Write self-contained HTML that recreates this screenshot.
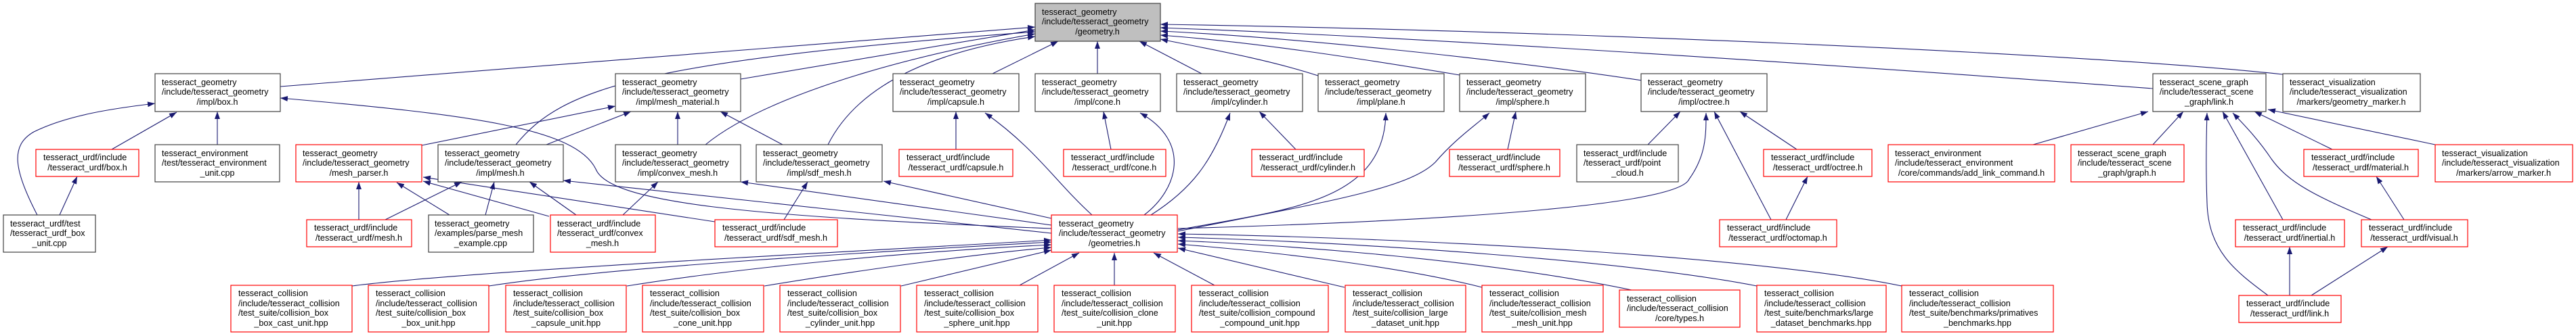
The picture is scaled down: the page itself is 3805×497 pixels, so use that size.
<!DOCTYPE html>
<html><head><meta charset="utf-8"><style>
html,body{margin:0;padding:0;background:#fff;}
svg{display:block;}
text{font-family:"Liberation Sans",Arial,sans-serif;font-size:12.6px;fill:#000;}
.b{fill:#fff;stroke:#404040;stroke-width:1.2;}
.r{fill:#fff;stroke:#ff0000;stroke-width:1.2;}
.g{fill:#bfbfbf;stroke:#404040;stroke-width:1.2;}
.e{fill:none;stroke:#191970;stroke-width:1.1;marker-end:url(#a);}
.m{text-anchor:middle;}
</style></head><body>
<svg width="3805" height="497" viewBox="0 0 3805 497" xmlns="http://www.w3.org/2000/svg">
<defs><marker id="a" markerUnits="userSpaceOnUse" markerWidth="11" markerHeight="8" refX="11" refY="4" orient="auto"><path d="M0,0 L11,4 L0,8 z" fill="#191970"/></marker></defs>

<!-- edges to geometry.h -->
<path class="e" d="M414,128 L1529,40"/>
<path class="e" d="M1094,117 L1529,44"/>
<path class="e" d="M762,214 C830,130 950,90 1529,47"/>
<path class="e" d="M1042,214 C1120,150 1300,90 1529,50"/>
<path class="e" d="M1223,214 C1260,140 1350,80 1529,54"/>
<path class="e" d="M1466,109 L1563,61"/>
<path class="e" d="M1621,109 L1621,61"/>
<path class="e" d="M1775,109 L1683,61"/>
<path class="e" d="M1947,112 C1880,90 1800,75 1714,58"/>
<path class="e" d="M2156,111 C2000,85 1850,62 1714,52"/>
<path class="e" d="M2425,119 C2200,85 1900,55 1714,46"/>
<path class="e" d="M3180,131 C2700,95 2100,55 1714,41"/>
<path class="e" d="M3372,110 C3100,80 2300,45 1714,36"/>

<!-- box.h -->
<path class="e" d="M165,221 L261,166"/>
<path class="e" d="M321,214 L321,165"/>
<path class="e" d="M55,318 C20,250 15,215 50,195 C100,170 170,160 229,153"/>
<path class="e" d="M1553,338 C1100,320 900,300 880,250 C850,190 700,170 414,145"/>
<path class="e" d="M88,318 L114,261"/>

<!-- mesh_material -->
<path class="e" d="M807,214 L932,165"/>
<path class="e" d="M623,215 L909,157"/>
<path class="e" d="M1001,214 L1001,165"/>
<path class="e" d="M1156,214 L1064,165"/>

<!-- mesh_parser -->
<path class="e" d="M530,325 L530,269"/>
<path class="e" d="M664,318 L586,270"/>
<path class="e" d="M811,320 L625,268"/>
<path class="e" d="M1056,328 L625,262"/>

<!-- mesh.h -->
<path class="e" d="M569,325 L682,269"/>
<path class="e" d="M717,318 L730,269"/>
<path class="e" d="M851,318 L782,269"/>
<path class="e" d="M1553,345 L832,267"/>

<!-- convex / sdf -->
<path class="e" d="M920,318 L972,269"/>
<path class="e" d="M1553,333 L1094,269"/>
<path class="e" d="M1158,325 L1193,269"/>
<path class="e" d="M1553,323 L1305,268"/>

<!-- capsule cone cylinder plane sphere octree -->
<path class="e" d="M1412,221 L1412,165"/>
<path class="e" d="M1613,318 C1560,270 1530,220 1455,167"/>
<path class="e" d="M1641,221 L1630,165"/>
<path class="e" d="M1690,318 C1740,280 1760,210 1684,167"/>
<path class="e" d="M1914,221 L1860,165"/>
<path class="e" d="M1700,318 C1760,280 1790,240 1817,167"/>
<path class="e" d="M1740,340 C1900,310 2045,300 2047,167"/>
<path class="e" d="M2227,221 L2239,165"/>
<path class="e" d="M1740,342 C1950,300 2080,280 2120,240 C2150,205 2180,185 2200,167"/>
<path class="e" d="M2434,214 L2482,165"/>
<path class="e" d="M1740,338 C2200,325 2480,300 2495,265 C2520,230 2520,200 2520,167"/>
<path class="e" d="M2654,221 L2570,165"/>
<path class="e" d="M2616,325 L2532,165"/>
<path class="e" d="M2638,325 L2670,261"/>

<!-- link.h -->
<path class="e" d="M3003,214 L3173,165"/>
<path class="e" d="M3180,214 L3225,165"/>
<path class="e" d="M3445,221 L3330,165"/>
<path class="e" d="M3597,214 L3350,162"/>
<path class="e" d="M3372,325 L3283,165"/>
<path class="e" d="M3503,325 C3420,290 3380,270 3355,235 C3335,205 3315,185 3298,167"/>
<path class="e" d="M3350,437 C3300,400 3262,370 3260,300 C3258,250 3259,200 3260,167"/>
<path class="e" d="M3551,325 L3510,261"/>
<path class="e" d="M3382,437 L3382,365"/>
<path class="e" d="M3414,437 L3527,365"/>

<!-- geometries.h from collision -->
<path class="e" d="M520,423 C700,400 1300,370 1553,355"/>
<path class="e" d="M722,423 C900,395 1300,372 1553,358"/>
<path class="e" d="M926,423 C1100,395 1350,372 1553,362"/>
<path class="e" d="M1129,423 C1300,395 1450,375 1553,366"/>
<path class="e" d="M1331,423 L1553,370"/>
<path class="e" d="M1506,422 L1594,374"/>
<path class="e" d="M1646,422 L1646,374"/>
<path class="e" d="M1794,422 L1704,374"/>
<path class="e" d="M1986,425 L1740,367"/>
<path class="e" d="M2189,425 C2050,390 1850,370 1740,361"/>
<path class="e" d="M2410,429 C2200,385 1900,362 1740,356"/>
<path class="e" d="M2595,423 C2400,385 2000,358 1740,351"/>
<path class="e" d="M2809,423 C2600,380 2100,352 1740,346"/>

<!-- nodes -->
<rect class="g" x="1529" y="5" width="185" height="56"/><text x="1539" y="22">tesseract_geometry</text><text x="1539" y="36">/include/tesseract_geometry</text><text class="m" x="1621" y="51">/geometry.h</text>

<rect class="b" x="229" y="109" width="185" height="56"/><text x="239" y="126">tesseract_geometry</text><text x="239" y="140">/include/tesseract_geometry</text><text class="m" x="321" y="155">/impl/box.h</text>
<rect class="b" x="909" y="109" width="185" height="56"/><text x="919" y="126">tesseract_geometry</text><text x="919" y="140">/include/tesseract_geometry</text><text class="m" x="1001" y="155">/impl/mesh_material.h</text>
<rect class="b" x="1319" y="109" width="186" height="56"/><text x="1329" y="126">tesseract_geometry</text><text x="1329" y="140">/include/tesseract_geometry</text><text class="m" x="1412" y="155">/impl/capsule.h</text>
<rect class="b" x="1529" y="109" width="185" height="56"/><text x="1539" y="126">tesseract_geometry</text><text x="1539" y="140">/include/tesseract_geometry</text><text class="m" x="1621" y="155">/impl/cone.h</text>
<rect class="b" x="1738" y="109" width="186" height="56"/><text x="1748" y="126">tesseract_geometry</text><text x="1748" y="140">/include/tesseract_geometry</text><text class="m" x="1831" y="155">/impl/cylinder.h</text>
<rect class="b" x="1947" y="109" width="186" height="56"/><text x="1957" y="126">tesseract_geometry</text><text x="1957" y="140">/include/tesseract_geometry</text><text class="m" x="2040" y="155">/impl/plane.h</text>
<rect class="b" x="2156" y="109" width="186" height="56"/><text x="2166" y="126">tesseract_geometry</text><text x="2166" y="140">/include/tesseract_geometry</text><text class="m" x="2249" y="155">/impl/sphere.h</text>
<rect class="b" x="2424" y="109" width="186" height="56"/><text x="2434" y="126">tesseract_geometry</text><text x="2434" y="140">/include/tesseract_geometry</text><text class="m" x="2517" y="155">/impl/octree.h</text>
<rect class="b" x="3180" y="109" width="167" height="56"/><text x="3190" y="126">tesseract_scene_graph</text><text x="3190" y="140">/include/tesseract_scene</text><text class="m" x="3263" y="155">_graph/link.h</text>
<rect class="b" x="3372" y="109" width="203" height="56"/><text x="3382" y="126">tesseract_visualization</text><text x="3382" y="140">/include/tesseract_visualization</text><text class="m" x="3473" y="155">/markers/geometry_marker.h</text>

<rect class="r" x="53" y="221" width="152" height="40"/><text x="64" y="237">tesseract_urdf/include</text><text class="m" x="129" y="252">/tesseract_urdf/box.h</text>
<rect class="b" x="229" y="214" width="184" height="55"/><text x="239" y="231">tesseract_environment</text><text x="239" y="245">/test/tesseract_environment</text><text class="m" x="321" y="260">_unit.cpp</text>
<rect class="r" x="437" y="214" width="186" height="55"/><text x="447" y="231">tesseract_geometry</text><text x="447" y="245">/include/tesseract_geometry</text><text class="m" x="530" y="260">/mesh_parser.h</text>
<rect class="b" x="647" y="214" width="185" height="55"/><text x="657" y="231">tesseract_geometry</text><text x="657" y="245">/include/tesseract_geometry</text><text class="m" x="739" y="260">/impl/mesh.h</text>
<rect class="b" x="909" y="214" width="185" height="55"/><text x="919" y="231">tesseract_geometry</text><text x="919" y="245">/include/tesseract_geometry</text><text class="m" x="1001" y="260">/impl/convex_mesh.h</text>
<rect class="b" x="1117" y="214" width="186" height="55"/><text x="1127" y="231">tesseract_geometry</text><text x="1127" y="245">/include/tesseract_geometry</text><text class="m" x="1210" y="260">/impl/sdf_mesh.h</text>
<rect class="r" x="1328" y="221" width="168" height="40"/><text x="1339" y="237">tesseract_urdf/include</text><text class="m" x="1412" y="252">/tesseract_urdf/capsule.h</text>
<rect class="r" x="1571" y="221" width="151" height="40"/><text x="1582" y="237">tesseract_urdf/include</text><text class="m" x="1646" y="252">/tesseract_urdf/cone.h</text>
<rect class="r" x="1849" y="221" width="166" height="40"/><text x="1860" y="237">tesseract_urdf/include</text><text class="m" x="1932" y="252">/tesseract_urdf/cylinder.h</text>
<rect class="r" x="2141" y="221" width="163" height="40"/><text x="2152" y="237">tesseract_urdf/include</text><text class="m" x="2222" y="252">/tesseract_urdf/sphere.h</text>
<rect class="b" x="2329" y="214" width="150" height="55"/><text x="2339" y="231">tesseract_urdf/include</text><text x="2339" y="245">/tesseract_urdf/point</text><text class="m" x="2404" y="260">_cloud.h</text>
<rect class="r" x="2605" y="221" width="160" height="40"/><text x="2616" y="237">tesseract_urdf/include</text><text class="m" x="2685" y="252">/tesseract_urdf/octree.h</text>
<rect class="r" x="2789" y="214" width="246" height="55"/><text x="2799" y="231">tesseract_environment</text><text x="2799" y="245">/include/tesseract_environment</text><text class="m" x="2912" y="260">/core/commands/add_link_command.h</text>
<rect class="r" x="3059" y="214" width="167" height="55"/><text x="3069" y="231">tesseract_scene_graph</text><text x="3069" y="245">/include/tesseract_scene</text><text class="m" x="3142" y="260">_graph/graph.h</text>
<rect class="r" x="3403" y="221" width="169" height="40"/><text x="3414" y="237">tesseract_urdf/include</text><text class="m" x="3487" y="252">/tesseract_urdf/material.h</text>
<rect class="r" x="3597" y="214" width="203" height="55"/><text x="3607" y="231">tesseract_visualization</text><text x="3607" y="245">/include/tesseract_visualization</text><text class="m" x="3698" y="260">/markers/arrow_marker.h</text>

<rect class="b" x="5" y="318" width="136" height="55"/><text x="15" y="335">tesseract_urdf/test</text><text x="15" y="349">/tesseract_urdf_box</text><text class="m" x="73" y="364">_unit.cpp</text>
<rect class="r" x="453" y="325" width="155" height="40"/><text x="464" y="341">tesseract_urdf/include</text><text class="m" x="530" y="356">/tesseract_urdf/mesh.h</text>
<rect class="b" x="633" y="318" width="155" height="55"/><text x="642" y="335">tesseract_geometry</text><text x="642" y="349">/examples/parse_mesh</text><text class="m" x="710" y="364">_example.cpp</text>
<rect class="r" x="813" y="318" width="155" height="55"/><text x="823" y="335">tesseract_urdf/include</text><text x="823" y="349">/tesseract_urdf/convex</text><text class="m" x="890" y="364">_mesh.h</text>
<rect class="r" x="1056" y="325" width="181" height="40"/><text x="1067" y="341">tesseract_urdf/include</text><text class="m" x="1146" y="356">/tesseract_urdf/sdf_mesh.h</text>
<rect class="r" x="1553" y="318" width="186" height="55"/><text x="1564" y="335">tesseract_geometry</text><text x="1564" y="349">/include/tesseract_geometry</text><text class="m" x="1646" y="364">/geometries.h</text>
<rect class="r" x="2540" y="325" width="173" height="40"/><text x="2551" y="341">tesseract_urdf/include</text><text class="m" x="2626" y="356">/tesseract_urdf/octomap.h</text>
<rect class="r" x="3302" y="325" width="161" height="40"/><text x="3313" y="341">tesseract_urdf/include</text><text class="m" x="3382" y="356">/tesseract_urdf/inertial.h</text>
<rect class="r" x="3488" y="325" width="157" height="40"/><text x="3499" y="341">tesseract_urdf/include</text><text class="m" x="3566" y="356">/tesseract_urdf/visual.h</text>

<rect class="r" x="341" y="422" width="179" height="69"/><text x="352" y="438">tesseract_collision</text><text x="352" y="453">/include/tesseract_collision</text><text x="352" y="467">/test_suite/collision_box</text><text class="m" x="430" y="482">_box_cast_unit.hpp</text>
<rect class="r" x="544" y="422" width="178" height="69"/><text x="555" y="438">tesseract_collision</text><text x="555" y="453">/include/tesseract_collision</text><text x="555" y="467">/test_suite/collision_box</text><text class="m" x="633" y="482">_box_unit.hpp</text>
<rect class="r" x="747" y="422" width="178" height="69"/><text x="758" y="438">tesseract_collision</text><text x="758" y="453">/include/tesseract_collision</text><text x="758" y="467">/test_suite/collision_box</text><text class="m" x="836" y="482">_capsule_unit.hpp</text>
<rect class="r" x="949" y="422" width="179" height="69"/><text x="960" y="438">tesseract_collision</text><text x="960" y="453">/include/tesseract_collision</text><text x="960" y="467">/test_suite/collision_box</text><text class="m" x="1038" y="482">_cone_unit.hpp</text>
<rect class="r" x="1152" y="422" width="178" height="69"/><text x="1163" y="438">tesseract_collision</text><text x="1163" y="453">/include/tesseract_collision</text><text x="1163" y="467">/test_suite/collision_box</text><text class="m" x="1241" y="482">_cylinder_unit.hpp</text>
<rect class="r" x="1354" y="422" width="179" height="69"/><text x="1365" y="438">tesseract_collision</text><text x="1365" y="453">/include/tesseract_collision</text><text x="1365" y="467">/test_suite/collision_box</text><text class="m" x="1443" y="482">_sphere_unit.hpp</text>
<rect class="r" x="1557" y="422" width="179" height="69"/><text x="1568" y="438">tesseract_collision</text><text x="1568" y="453">/include/tesseract_collision</text><text x="1568" y="467">/test_suite/collision_clone</text><text class="m" x="1646" y="482">_unit.hpp</text>
<rect class="r" x="1760" y="422" width="202" height="69"/><text x="1771" y="438">tesseract_collision</text><text x="1771" y="453">/include/tesseract_collision</text><text x="1771" y="467">/test_suite/collision_compound</text><text class="m" x="1861" y="482">_compound_unit.hpp</text>
<rect class="r" x="1987" y="422" width="178" height="69"/><text x="1998" y="438">tesseract_collision</text><text x="1998" y="453">/include/tesseract_collision</text><text x="1998" y="467">/test_suite/collision_large</text><text class="m" x="2076" y="482">_dataset_unit.hpp</text>
<rect class="r" x="2189" y="422" width="179" height="69"/><text x="2200" y="438">tesseract_collision</text><text x="2200" y="453">/include/tesseract_collision</text><text x="2200" y="467">/test_suite/collision_mesh</text><text class="m" x="2278" y="482">_mesh_unit.hpp</text>
<rect class="r" x="2392" y="429" width="178" height="55"/><text x="2403" y="446">tesseract_collision</text><text x="2403" y="460">/include/tesseract_collision</text><text class="m" x="2481" y="475">/core/types.h</text>
<rect class="r" x="2595" y="422" width="191" height="69"/><text x="2606" y="438">tesseract_collision</text><text x="2606" y="453">/include/tesseract_collision</text><text x="2606" y="467">/test_suite/benchmarks/large</text><text class="m" x="2690" y="482">_dataset_benchmarks.hpp</text>
<rect class="r" x="2809" y="422" width="224" height="69"/><text x="2820" y="438">tesseract_collision</text><text x="2820" y="453">/include/tesseract_collision</text><text x="2820" y="467">/test_suite/benchmarks/primatives</text><text class="m" x="2921" y="482">_benchmarks.hpp</text>
<rect class="r" x="3307" y="437" width="151" height="40"/><text x="3318" y="453">tesseract_urdf/include</text><text class="m" x="3382" y="468">/tesseract_urdf/link.h</text>
</svg>
</body></html>
